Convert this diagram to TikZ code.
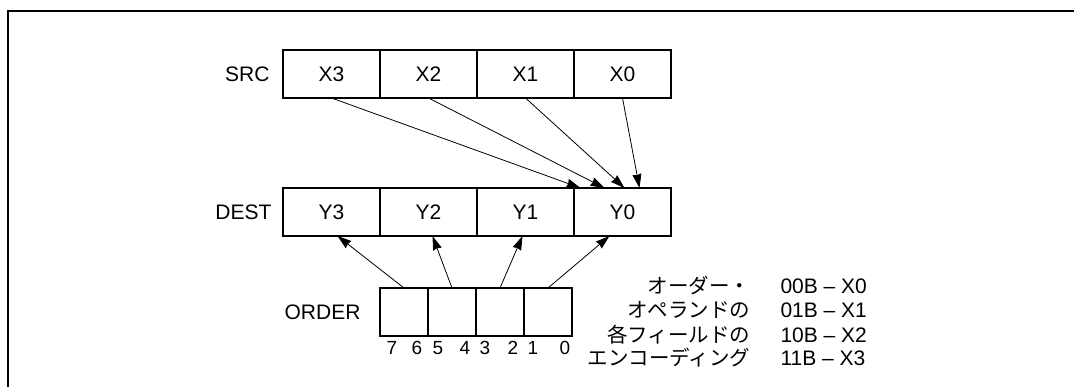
\documentclass[tikz,border=0pt]{standalone}
\usepackage{fontspec}
\setmainfont{Liberation Sans}
\newfontfamily\jpfont{Noto Sans CJK JP}
\usetikzlibrary{arrows.meta}

\begin{document}
\begin{tikzpicture}[x=1pt,y=-1pt,
reg/.style={draw,line width=1.8pt,minimum width=97pt,minimum height=48pt,inner sep=0,outer sep=0,font=\fontsize{21}{24}\selectfont},
field/.style={draw,line width=1.8pt,minimum width=48pt,minimum height=48pt,inner sep=0,outer sep=0},
lab/.style={anchor=east,font=\fontsize{21}{24}\selectfont},
sel/.style={-{Stealth[length=14pt,width=9pt,inset=1pt]},line width=0.8pt},
bitnum/.style={font=\fontsize{19}{22}\selectfont},
enc/.style={anchor=base east,font=\jpfont\fontsize{20.5}{24}\selectfont},
code/.style={anchor=base west,font=\fontsize{21}{24}\selectfont}]
	\useasboundingbox (0,0) rectangle (1074,387);
	\def\cw{97pt}
	\def\fw{48pt}
	% frame
	\draw[line width=2pt] (8,387) -- (8,11) -- (1074,11);

	% source register
	\node[reg] at (331.5,74) (x3) {X3};
	\node[reg] at ([xshift=\cw]x3) (x2) {X2};
	\node[reg] at ([xshift=\cw]x2) (x1) {X1};
	\node[reg] at ([xshift=\cw]x1) (x0) {X0};
	\node[lab] at ([xshift=-10pt]x3.west) (src) {SRC};

	% destination register
	\node[reg] at (331.5,212) (y3) {Y3};
	\node[reg] at ([xshift=\cw]y3) (y2) {Y2};
	\node[reg] at ([xshift=\cw]y2) (y1) {Y1};
	\node[reg] at ([xshift=\cw]y1) (y0) {Y0};
	\node[lab] at ([xshift=-8pt]y3.west) (dest) {DEST};

	% order byte
	\node[field] at (404,312) (o3) {};
	\node[field] at ([xshift=\fw]o3) (o2) {};
	\node[field] at ([xshift=\fw]o2) (o1) {};
	\node[field] at ([xshift=\fw]o1) (o0) {};
	\node[lab] at ([xshift=-16pt]o3.west) (order) {ORDER};

	\foreach \b/\px in {7/392,6/417,5/438,4/465,3/485,2/513,1/533,0/565} {
		\node[bitnum] at (\px,348) (b\b) {\b};
	}

	% every source element may go to Y0
	\foreach \s/\d in {x3/-42,x2/-18,x1/2,x0/17} {
		\draw[sel] (\s.south) -- ([xshift=\d pt]y0.north);
	}
	% order fields select the destination elements
	\draw[sel] (o3.north) -- ([xshift=6pt]y3.south);
	\draw[sel] (o2.north) -- ([xshift=4pt]y2.south);
	\draw[sel] (o1.north) -- ([xshift=-3pt]y1.south);
	\draw[sel] (o0.north) -- ([xshift=-13pt]y0.south);

	% encoding legend
	\node[enc] at (754,294) (e1) {オーダー・};
	\node[enc] at (754,318) (e2) {オペランドの};
	\node[enc] at (754,343) (e3) {各フィールドの};
	\node[enc] at (754,366) (e4) {エンコーディング};
	\node[code] at (777,294) (c1) {00B – X0};
	\node[code] at (777,318) (c2) {01B – X1};
	\node[code] at (777,343) (c3) {10B – X2};
	\node[code] at (777,366) (c4) {11B – X3};
\end{tikzpicture}
\end{document}
